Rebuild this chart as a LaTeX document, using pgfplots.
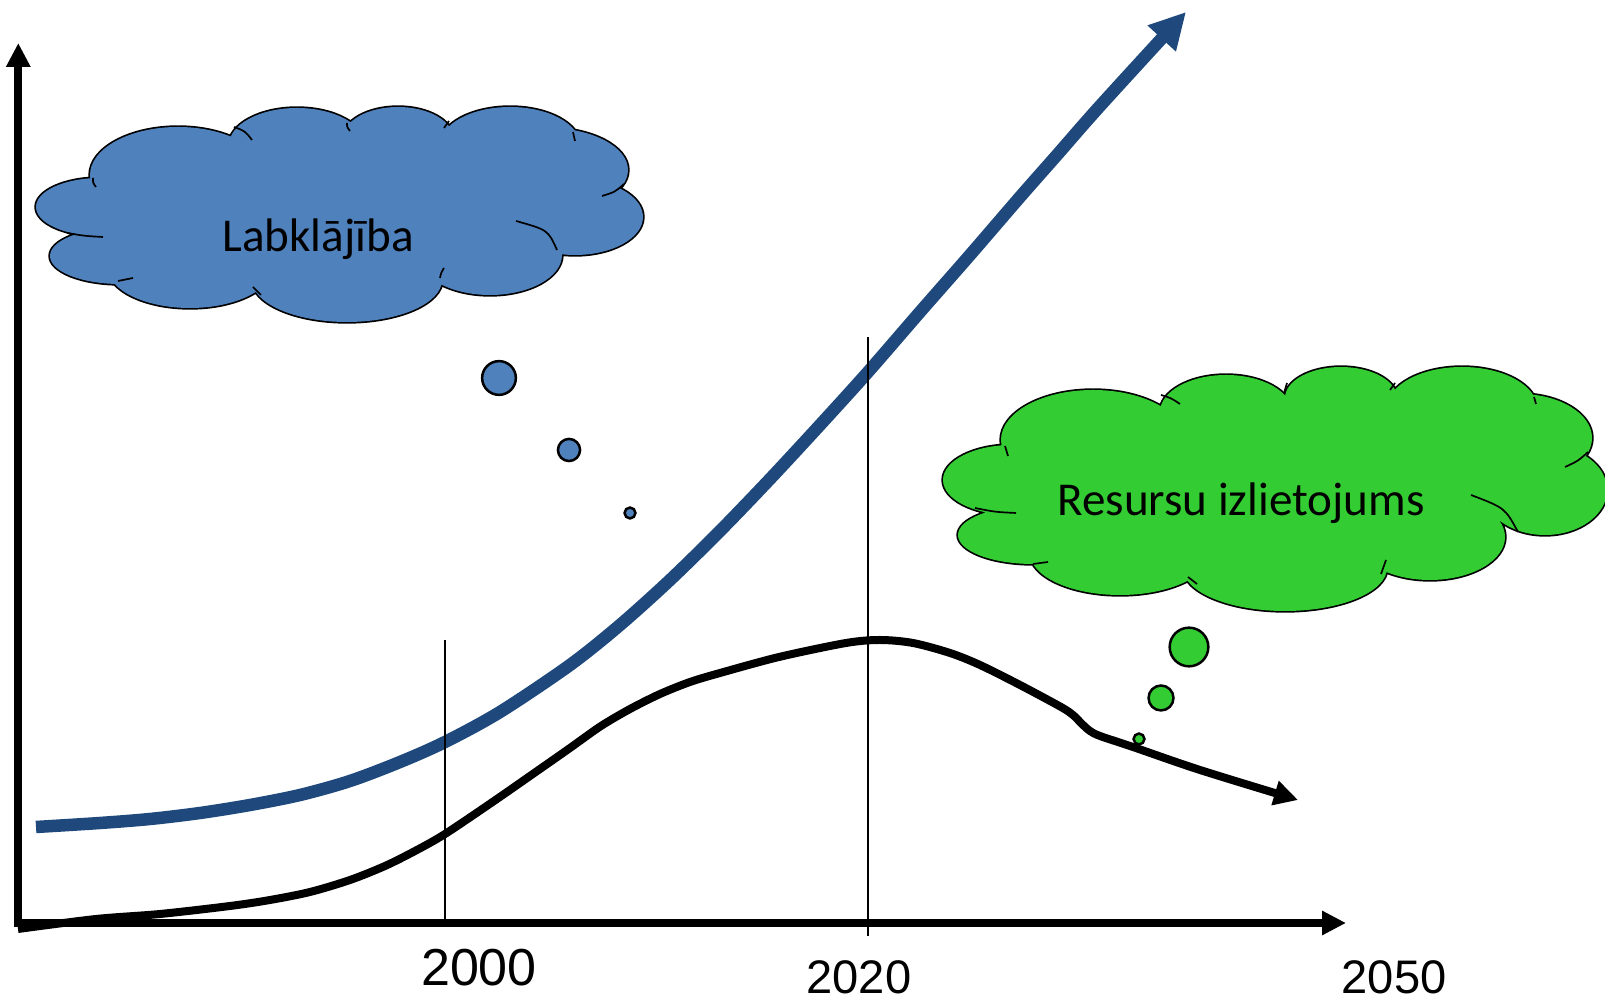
\documentclass[border=0pt]{standalone}
\usepackage{pgfplots}
\pgfplotsset{compat=1.18}
\usetikzlibrary{arrows.meta}
\usepackage{fontspec}
\setmainfont{Carlito}
\newfontfamily\arialfont{Liberation Sans}

\definecolor{cloudblue}{HTML}{4F81BD}
\definecolor{curveblue}{HTML}{1F497D}
\definecolor{cloudgreen}{HTML}{33CC33}

% lobes of the two clouds (centre in axis units, radii in mm: 1 unit = 0.1 mm)
\newcommand\cloudLeft{%
  (axis cs:100,207) ellipse[x radius=6.4mm,y radius=2.9mm]
  (axis cs:120,256) ellipse[x radius=7.0mm,y radius=2.8mm]
  (axis cs:178,175) ellipse[x radius=8.8mm,y radius=4.8mm]
  (axis cs:297,145) ellipse[x radius=6.8mm,y radius=3.7mm]
  (axis cs:398,138) ellipse[x radius=5.5mm,y radius=3.1mm]
  (axis cs:510,145) ellipse[x radius=7.0mm,y radius=3.8mm]
  (axis cs:548,170) ellipse[x radius=8.0mm,y radius=4.2mm]
  (axis cs:575,217) ellipse[x radius=6.8mm,y radius=3.8mm]
  (axis cs:490,255) ellipse[x radius=7.2mm,y radius=4.0mm]
  (axis cs:347,280) ellipse[x radius=9.5mm,y radius=4.2mm]
  (axis cs:190,268) ellipse[x radius=8.2mm,y radius=4.0mm]}
\newcommand\cloudRight{%
  (axis cs:1012,480) ellipse[x radius=6.9mm,y radius=3.5mm]
  (axis cs:1033,535) ellipse[x radius=7.5mm,y radius=2.9mm]
  (axis cs:1093,440) ellipse[x radius=9.2mm,y radius=5.0mm]
  (axis cs:1226,412) ellipse[x radius=6.6mm,y radius=3.7mm]
  (axis cs:1341,398) ellipse[x radius=5.6mm,y radius=3.1mm]
  (axis cs:1462,408) ellipse[x radius=7.5mm,y radius=4.1mm]
  (axis cs:1520,438) ellipse[x radius=7.2mm,y radius=4.4mm]
  (axis cs:1545,490) ellipse[x radius=6.2mm,y radius=4.5mm]
  (axis cs:1430,537) ellipse[x radius=7.5mm,y radius=4.3mm]
  (axis cs:1285,568) ellipse[x radius=10.2mm,y radius=4.3mm]
  (axis cs:1120,553) ellipse[x radius=9.0mm,y radius=4.2mm]}

\begin{document}
\begin{tikzpicture}
\useasboundingbox (0,0) rectangle (160.5mm,100mm);
\begin{axis}[
  at={(0,0)}, anchor=south west,
  width=160.5mm, height=100mm, scale only axis,
  xmin=0, xmax=1605, ymin=0, ymax=1000, y dir=reverse,
  hide axis, clip=false]

% welfare
\addplot[curveblue, line width=1.25mm, smooth,
  -{Triangle[length=3.6mm,width=3.6mm]}] coordinates {
  (36,827) (100,823) (150,819) (200,813) (250,805) (300,795) (350,781)
  (400,762) (445,742) (500,712) (570,665) (620,625) (670,580) (720,531)
  (770,479) (820,425) (868,372) (920,312) (970,255) (1020,197)
  (1057,155) (1100,106) (1186,12)};

% resource use
\addplot[black, line width=0.8mm, smooth,
  -{Triangle[length=2.4mm,width=2.4mm]}] coordinates {
  (18,929) (96,919) (160,914) (230,906) (270,900) (310,892) (350,880)
  (385,866) (415,851) (445,834) (494,801) (540,769) (570,748) (601,726)
  (630,709) (660,694) (690,682) (720,673) (779,657) (846,643) (880,640)
  (913,643) (950,653) (980,665) (1020,685) (1061,707) (1073,715)
  (1082,724) (1090,731) (1100,736) (1133,747) (1200,770) (1298,800)};

% year markers
\draw[line width=0.2mm] (axis cs:445,640) -- (axis cs:445,923);
\draw[line width=0.2mm] (axis cs:868,337) -- (axis cs:868,936);

% left cloud
\draw[line width=0.34mm, fill=cloudblue] \cloudLeft;
\fill[cloudblue] \cloudLeft (axis cs:335,215) ellipse[x radius=23mm,y radius=7mm];
\begin{scope}[line width=0.17mm]
  \draw (axis cs:93,178) .. controls (axis cs:93,183) .. (axis cs:96,187);
  \draw (axis cs:234,127) .. controls (axis cs:245,131) .. (axis cs:252,140);
  \draw (axis cs:347,123) .. controls (axis cs:347,127) .. (axis cs:350,131);
  \draw (axis cs:449,121) .. controls (axis cs:446,124) .. (axis cs:444,128);
  \draw (axis cs:573,132) .. controls (axis cs:574,136) .. (axis cs:575,141);
  \draw (axis cs:624,184) .. controls (axis cs:615,192) .. (axis cs:602,196);
  \draw (axis cs:516,221) .. controls (axis cs:548,230) .. (axis cs:557,250);
  \draw (axis cs:440,278) .. controls (axis cs:441,273) .. (axis cs:444,268);
  \draw (axis cs:261,295) .. controls (axis cs:257,291) .. (axis cs:253,287);
  \draw (axis cs:118,281) .. controls (axis cs:125,279) .. (axis cs:133,278);
  \draw (axis cs:67,233) .. controls (axis cs:85,236) .. (axis cs:103,237);
\end{scope}
\node[anchor=base, font=\fontsize{13.4}{16}\selectfont] at (axis cs:318,252) {Labklājība};

% right cloud
\draw[line width=0.34mm, fill=cloudgreen] \cloudRight;
\fill[cloudgreen] \cloudRight (axis cs:1270,480) ellipse[x radius=25mm,y radius=7.5mm];
\begin{scope}[line width=0.17mm]
  \draw (axis cs:1005,446) .. controls (axis cs:1006,451) .. (axis cs:1008,456);
  \draw (axis cs:1161,395) .. controls (axis cs:1171,398) .. (axis cs:1180,404);
  \draw (axis cs:1287,383) .. controls (axis cs:1285,388) .. (axis cs:1284,393);
  \draw (axis cs:1395,383) .. controls (axis cs:1392,386) .. (axis cs:1390,390);
  \draw (axis cs:1534,397) .. controls (axis cs:1535,400) .. (axis cs:1536,404);
  \draw (axis cs:1588,452) .. controls (axis cs:1578,461) .. (axis cs:1565,467);
  \draw (axis cs:1471,495) .. controls (axis cs:1505,508) .. (axis cs:1518,532);
  \draw (axis cs:1386,560) .. controls (axis cs:1384,567) .. (axis cs:1381,574);
  \draw (axis cs:1188,577) .. controls (axis cs:1192,580) .. (axis cs:1197,584);
  \draw (axis cs:1048,562) .. controls (axis cs:1040,563) .. (axis cs:1033,564);
  \draw (axis cs:975,508) .. controls (axis cs:995,512) .. (axis cs:1016,513);
\end{scope}
\node[anchor=base, font=\fontsize{13.4}{16}\selectfont] at (axis cs:1241,516) {Resursu izlietojums};

% thought bubbles
\pgfplotsset{bubble/.style={only marks, mark=*, mark options={draw=black, line width=0.25mm, fill=#1}}}
\addplot[bubble=cloudblue, mark size=4.8pt] coordinates {(499,378)};
\addplot[bubble=cloudblue, mark size=3.15pt] coordinates {(569,450)};
\addplot[bubble=cloudblue, mark size=1.55pt] coordinates {(630,513)};
\addplot[bubble=cloudgreen, mark size=5.5pt] coordinates {(1189,647)};
\addplot[bubble=cloudgreen, mark size=3.55pt] coordinates {(1161,698)};
\addplot[bubble=cloudgreen, mark size=1.55pt] coordinates {(1139,739)};

% axes
\draw[line width=0.8mm, -{Triangle[length=2.4mm,width=2.3mm]}] (axis cs:18.3,927) -- (axis cs:18.3,43);
\draw[line width=0.8mm, -{Triangle[length=2.4mm,width=2.3mm]}] (axis cs:14,923) -- (axis cs:1346,923);

% years
\node[anchor=base, font=\arialfont\fontsize{14.8}{17}\selectfont] at (axis cs:479,986) {2000};
\node[anchor=base, font=\arialfont\fontsize{13.4}{16}\selectfont] at (axis cs:859,994) {2020};
\node[anchor=base, font=\arialfont\fontsize{13.4}{16}\selectfont] at (axis cs:1394,994) {2050};
\end{axis}
\end{tikzpicture}
\end{document}
